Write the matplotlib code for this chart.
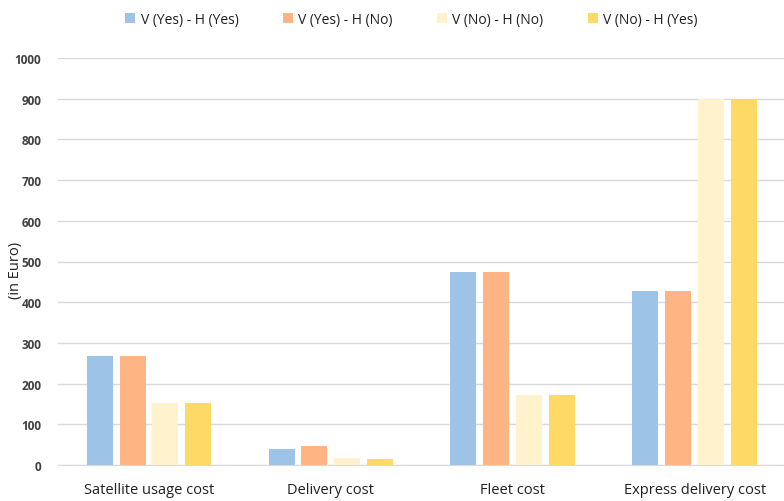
import matplotlib
matplotlib.use("Agg")
import matplotlib.pyplot as plt
import numpy as np

categories = ["Satellite usage cost", "Delivery cost", "Fleet cost", "Express delivery cost"]
series_names = ["V (Yes) - H (Yes)", "V (Yes) - H (No)", "V (No) - H (No)", "V (No) - H (Yes)"]
s1 = [268, 39, 474, 428]
s2 = [268, 47, 474, 428]
s3 = [152, 17, 172, 900]
s4 = [152, 15, 172, 900]
colors = ["#9DC3E6", "#FFB583", "#FFF2CC", "#FFD966"]

plt.rcParams['font.family'] = ['Open Sans', 'DejaVu Sans']

fig = plt.figure(figsize=(7.84, 5.02), dpi=100)
ax = fig.add_axes([58/784, 1-466/502, 1-58/784, (466-59)/502])

x = np.arange(len(categories))
step = 0.181
width = 0.143
for i, (vals, c, name) in enumerate(zip([s1, s2, s3, s4], colors, series_names)):
    ax.bar(x + (i - 1.5) * step, vals, width, color=c, label=name, zorder=3)

ax.set_xlim(-0.5, 3.49)
ax.set_ylim(0, 1000)
ax.set_yticks(np.arange(0, 1001, 100))
ax.yaxis.grid(True, color="#D9D9D9", linewidth=1, zorder=0)
ax.set_axisbelow(True)
for sp in ["top", "right", "left"]:
    ax.spines[sp].set_visible(False)
ax.spines["bottom"].set_color("#D9D9D9")
ax.tick_params(axis="both", length=0)
ax.tick_params(axis="y", pad=12, labelsize=8.5, labelcolor="#404040")
ax.tick_params(axis="x", pad=12, labelsize=10.5, labelcolor="#202020")
for t in ax.get_yticklabels():
    t.set_fontweight("bold")
ax.set_xticks(x)
ax.set_xticklabels(categories)
ax.set_ylabel("(in Euro)", fontsize=10.5, color="#202020")
ax.yaxis.set_label_coords(-35/728, 0.48)

fig.legend(loc="upper center", bbox_to_anchor=(0.525, 1.0), ncol=4, frameon=False,
           fontsize=10, handlelength=0.7, handleheight=0.7, handletextpad=0.4,
           columnspacing=3.2, labelcolor="#202020")

fig.savefig("out.png", dpi=100)
